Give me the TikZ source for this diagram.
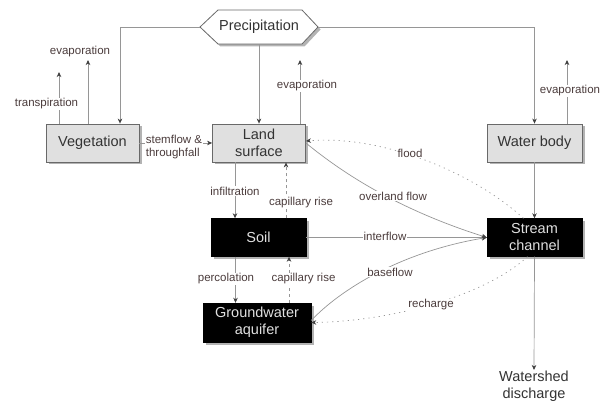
\documentclass[tikz,border=0pt]{standalone}
\usepackage{fontspec}
\setmainfont{Liberation Sans}
\usetikzlibrary{arrows.meta,shadows,calc}
\definecolor{linegray}{RGB}{150,150,150}
\definecolor{labelcol}{RGB}{75,60,60}
\definecolor{boxfill}{RGB}{224,224,224}
\definecolor{boxline}{RGB}{105,105,105}
\begin{document}
\begin{tikzpicture}[x=1pt,y=-1pt,
  boxfont/.style={font=\fontsize{14.5}{17}\selectfont},
  shad/.style={drop shadow={shadow xshift=2.5pt,shadow yshift=-2.5pt,fill=black!50,opacity=0.6}},
  lightbox/.style={boxfont,draw=boxline,line width=0.8pt,fill=boxfill,minimum width=93pt,minimum height=38pt,inner sep=0pt,align=center,text=black!80,shad},
  darkbox/.style={boxfont,draw=black,fill=black,minimum width=95pt,minimum height=38pt,inner sep=0pt,align=center,text=white!88!black,shad},
  flow/.style={draw=linegray,line width=0.7pt,-{Stealth[length=5pt,width=4.5pt,inset=1.5pt,color=black!75]}},
  capil/.style={flow,dash pattern=on 3pt off 3pt},
  dots/.style={flow,dash pattern=on 1.2pt off 4pt},
  lbl/.style={fill=white,inner sep=1pt,text=labelcol,font=\fontsize{11.5}{13}\selectfont},
]
\useasboundingbox (0,0) rectangle (607,403);

% Precipitation hexagon
\path[draw=boxline,line width=0.8pt,fill=white,shad]
  (200,27) -- (218,10) -- (302,10) -- (318,27) -- (302,44) -- (218,44) -- cycle;
\node[boxfont,minimum width=118pt,minimum height=34pt,inner sep=0pt,text=black!80] (precip) at (259,27) {Precipitation};

% boxes
\node[lightbox] (veg) at (92.5,143) {Vegetation};
\node[lightbox] (land) at (259,143) {Land\\surface};
\node[lightbox,minimum width=95pt] (water) at (534.5,143) {Water body};
\node[darkbox] (soil) at (258.5,237.5) {Soil};
\node[darkbox,minimum width=108pt,minimum height=39pt] (gw) at (257,322.5) {Groundwater\\aquifer};
\node[darkbox] (stream) at (534.5,237.5) {Stream\\channel};
\node[boxfont,text=black!80,align=center,anchor=north,inner sep=1pt] (ws) at (534,370) {Watershed\\discharge};

% evaporation end points
\coordinate (tT) at (59,72);
\coordinate (eV) at (88,60);
\coordinate (eL) at (300,60);
\coordinate (eW) at (567,60);

% precipitation
\draw[flow] (precip.west) -| ($(veg.north)+(27.5,0)$);
\draw[flow] (precip.south) -- (land.north);
\draw[flow] (precip.east) -| (water.north);

% evaporation / transpiration
\draw[flow] (veg.north -| tT) -- (tT);
\node[lbl] at (46.5,104) {transpiration};
\draw[flow] (veg.north -| eV) -- (eV);
\node[lbl] at (80,52) {evaporation};
\draw[flow] (land.north -| eL) -- (eL);
\node[lbl] at (307,86) {evaporation};
\draw[flow] (water.north -| eW) -- (eW);
\node[lbl] at (570,91) {evaporation};

% vegetation -> land surface
\draw[flow] (veg.east) -- (land.west);
\node[lbl,align=left] at (174,147) {stemflow \&\\throughfall};

% vertical exchanges
\draw[flow] ([xshift=-24pt]land.south) -- ([xshift=-24pt]land.south |- soil.north);
\node[lbl] at (235,191) {infiltration};
\draw[capil] ([xshift=27pt]land.south |- soil.north) -- ([xshift=27pt]land.south);
\node[lbl] at (301,203) {capillary rise};
\draw[flow] ([xshift=-23pt]soil.south) -- ([xshift=-23pt]soil.south |- gw.north);
\node[lbl] at (226,279) {percolation};
\draw[capil] ([xshift=30.5pt]soil.south |- gw.north) -- ([xshift=30.5pt]soil.south);
\node[lbl] at (303.5,279) {capillary rise};

% flows to the stream
\draw[flow] (soil.east) -- (stream.west);
\node[lbl] at (385,236) {interflow};
\draw[flow] (land.east) .. controls (345,175) and (400,210) .. (stream.west);
\node[lbl] at (393,196) {overland flow};
\draw[flow] ([yshift=2pt]gw.east) .. controls (340,290) and (400,252) .. (stream.west);
\node[lbl] at (390,272) {baseflow};
\draw[dots] ([xshift=-7pt]stream.south) .. controls (480,300) and (380,322) .. (gw.east);
\node[lbl] at (431,305) {recharge};
\draw[dots] ([xshift=-11pt]stream.north) .. controls (470,170) and (380,135) .. ([yshift=2pt]land.east);
\node[lbl] at (410,153) {flood};

% water body -> stream -> discharge
\draw[flow] (water.south) -- (stream.north);
\draw[flow] (stream.south) -- (ws.north);
\end{tikzpicture}
\end{document}
